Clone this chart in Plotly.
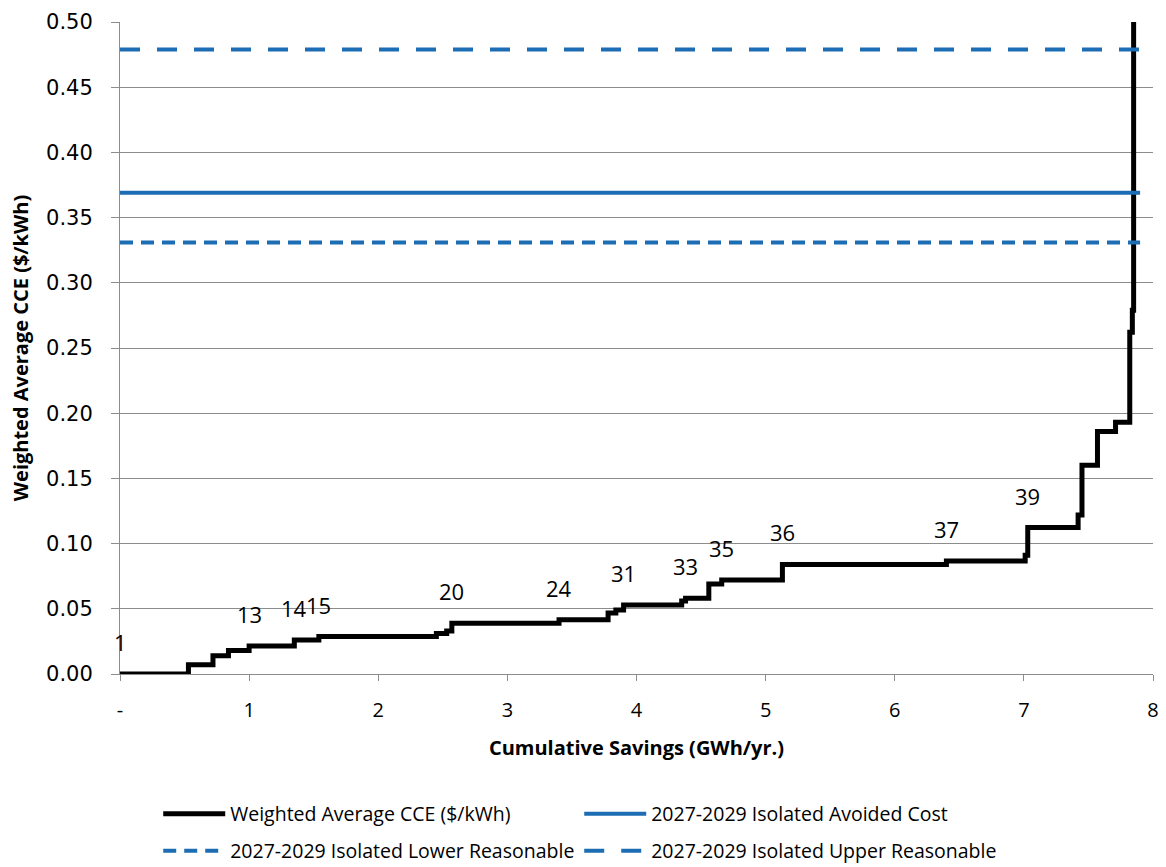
import plotly.graph_objects as go

# ---- data ----
cum_savings = [0.00, 0.53, 0.72, 0.84, 1.00, 1.35, 1.54, 2.45, 2.53, 2.57, 3.40, 3.78, 3.84,
               3.90, 4.35, 4.38, 4.56, 4.66, 5.13, 6.40, 7.01, 7.03, 7.42, 7.45, 7.57, 7.71,
               7.82, 7.84, 7.85]
weighted_cce = [0.000, 0.007, 0.014, 0.018, 0.0215, 0.026, 0.0287, 0.031, 0.033, 0.039, 0.0416,
                0.0467, 0.049, 0.053, 0.056, 0.058, 0.069, 0.072, 0.084, 0.0866, 0.091, 0.1123,
                0.122, 0.160, 0.186, 0.193, 0.262, 0.279, 0.60]
measure_labels = ["1", "", "", "", "13", "14", "15", "", "", "20", "24", "", "", "31", "", "33",
                  "", "35", "36", "37", "", "39", "", "", "", "", "", "", ""]

ref_x = [0.0, 7.9]
avoided_cost = 0.369
lower_reasonable = 0.331
upper_reasonable = 0.479

x_tickvals = [0, 1, 2, 3, 4, 5, 6, 7, 8]
x_ticktext = ["-", "1", "2", "3", "4", "5", "6", "7", "8"]

BLUE = "#1C6DB3"
GRID = "#8C8C8C"
LEG_FONT = dict(family="Open Sans", size=19.5, color="black")

fig = go.Figure()

fig.add_trace(go.Scatter(
    x=cum_savings, y=weighted_cce, mode="lines", line=dict(color="black", width=5, shape="hv"),
    name="Weighted Average CCE ($/kWh)", legend="legend"))
fig.add_trace(go.Scatter(
    x=ref_x, y=[avoided_cost] * len(ref_x), mode="lines", line=dict(color=BLUE, width=4),
    name="2027-2029 Isolated Avoided Cost", legend="legend"))
fig.add_trace(go.Scatter(
    x=ref_x, y=[lower_reasonable] * len(ref_x), mode="lines",
    line=dict(color=BLUE, width=4, dash="13px,8px"),
    name="2027-2029 Isolated Lower Reasonable", legend="legend2"))
fig.add_trace(go.Scatter(
    x=ref_x, y=[upper_reasonable] * len(ref_x), mode="lines",
    line=dict(color=BLUE, width=4, dash="20px,17px"),
    name="2027-2029 Isolated Upper Reasonable", legend="legend2"))

annotations = []
for xv, yv, lab in zip(cum_savings, weighted_cce, measure_labels):
    if lab:
        annotations.append(dict(x=xv, y=yv, text=lab, showarrow=False, yshift=32,
                                xref="x", yref="y",
                                font=dict(family="Open Sans", size=22, color="black")))

fig.update_layout(
    width=1166, height=867,
    margin=dict(l=120, r=13, t=22, b=193, autoexpand=False),
    paper_bgcolor="white", plot_bgcolor="white",
    annotations=annotations,
    xaxis=dict(range=[0, 8], tickvals=x_tickvals, ticktext=x_ticktext, showgrid=False,
               zeroline=False, showline=True, linecolor=GRID, linewidth=1, automargin=False,
               ticks="outside", ticklen=6, tickcolor=GRID,
               tickfont=dict(family="Open Sans", size=20, color="black"),
               ticklabelstandoff=12,
               title=dict(text="Cumulative Savings (GWh/yr.)", standoff=18,
                          font=dict(family="Open Sans", size=20, color="black", weight="bold"))),
    yaxis=dict(range=[0, 0.5], dtick=0.05, tickformat=".2f", showgrid=True, gridcolor=GRID,
               gridwidth=1, zeroline=False, showline=True, linecolor=GRID, linewidth=1,
               automargin=False,
               ticks="outside", ticklen=8, tickcolor=GRID,
               tickfont=dict(family="DejaVu Sans", size=21, color="black"),
               ticklabelstandoff=14,
               title=dict(text="Weighted Average CCE ($/kWh)", standoff=12,
                          font=dict(family="Open Sans", size=20, color="black", weight="bold"))),
    legend=dict(orientation="h", x=0.037, xanchor="left", y=-0.2147, yanchor="middle",
                font=LEG_FONT, itemwidth=62, entrywidth=344, bgcolor="rgba(0,0,0,0)"),
    legend2=dict(orientation="h", x=0.037, xanchor="left", y=-0.2715, yanchor="middle",
                 font=LEG_FONT, itemwidth=62, entrywidth=344, bgcolor="rgba(0,0,0,0)"),
)

fig.write_html("out.html", config={"displayModeBar": False},
               post_script="document.body.style.margin='0';document.body.style.padding='0';")
